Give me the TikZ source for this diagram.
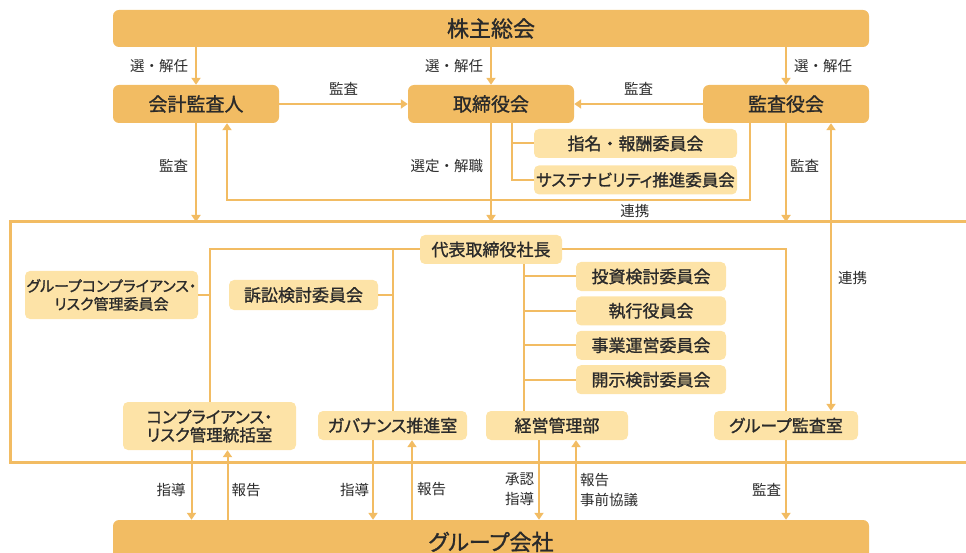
\documentclass[tikz,border=0pt]{standalone}
\usepackage{fontspec}
\setmainfont{Noto Sans CJK JP}
\newfontfamily\boxfont{Noto Sans CJK JP}[FakeBold=1.2]
\newfontfamily\kana{Noto Sans CJK JP}[RawFeature=+palt,FakeBold=1.2]
\usepackage{tikz}
\usetikzlibrary{arrows.meta,positioning}
\definecolor{boxc}{HTML}{F2BC63}
\definecolor{subc}{HTML}{FDE3A7}
\definecolor{txtc}{HTML}{2A2A2A}

\begin{document}
\begin{tikzpicture}[
    x=1pt, y=-1pt,
    main/.style={rectangle,rounded corners=6pt,fill=boxc,text=txtc,inner sep=0pt,minimum width=166pt,minimum height=38pt,font=\boxfont\fontsize{19}{22}\selectfont},
    sub/.style={rectangle,rounded corners=5pt,fill=subc,text=txtc,inner sep=0pt,minimum height=29pt,align=center,font=\boxfont\fontsize{17}{18}\selectfont},
    line/.style={draw=boxc,line width=2pt},
    arrow/.style={line,-{Triangle[width=9pt,length=7pt]}},
    dblarrow/.style={line,{Triangle[width=9pt,length=7pt]}-{Triangle[width=9pt,length=7pt]}},
    lbl/.style={text=txtc,font=\fontsize{14.5}{20}\selectfont,inner sep=2pt,align=center}
]
    \useasboundingbox (0,0) rectangle (966,553);

    % top level
    \node[main,minimum width=756pt,minimum height=37pt,font=\boxfont\fontsize{22}{26}\selectfont] (agm) at (491,28.5) {株主総会};
    \node[main] (auditor) at (196,104) {会計監査人};
    \node[main] (board) at (491,104) {取締役会};
    \node[main] (kansa) at (786,104) {監査役会};
    \node[sub,minimum width=203pt] (nomin) at (635.5,143.5) {指名・報酬委員会};
    \node[sub,minimum width=203pt,below=7pt of nomin,font=\kana\fontsize{16.5}{18}\selectfont] (sustain) {サステナビリティ推進委員会};

    % company frame
    \coordinate (fnw) at (10,222);
    \coordinate (fse) at (990,462);
    \draw[boxc,line width=3pt] (fnw) rectangle (fse);

    \node[sub,minimum width=142pt] (ceo) at (491,249.5) {代表取締役社長};
    \node[sub,minimum width=173pt,minimum height=48pt,font=\kana\fontsize{15}{18}\selectfont] (gcrm) at (111.5,295) {グループコンプライアンス・\\リスク管理委員会};
    \node[sub,minimum width=149pt,minimum height=30pt] (litig) at (303.5,295) {訴訟検討委員会};
    \node[sub,minimum width=173pt,minimum height=48pt,font=\kana\fontsize{16.5}{18}\selectfont] (crmo) at (209.5,426) {コンプライアンス・\\リスク管理統括室};
    \node[sub,minimum width=149pt,font=\kana\fontsize{17}{18}\selectfont] (gov) at (392.5,425.5) {ガバナンス推進室};
    \node[sub,minimum width=150pt] (invest) at (651,276.5) {投資検討委員会};
    \node[sub,minimum width=150pt,below=5pt of invest] (exec) {執行役員会};
    \node[sub,minimum width=150pt,below=5pt of exec] (biz) {事業運営委員会};
    \node[sub,minimum width=150pt,below=5pt of biz] (disc) {開示検討委員会};
    \node[sub,minimum width=142pt] (mgmt) at (557,425.5) {経営管理部};
    \node[sub,minimum width=144pt,font=\kana\fontsize{17}{18}\selectfont] (gaudit) at (786,425.5) {グループ監査室};

    \node[main,minimum width=756pt,minimum height=44pt,font=\kana\fontsize{22}{26}\selectfont] (group) at (491,542) {グループ会社};

    % shareholders
    \draw[arrow] (auditor.north |- agm.south) -- node[lbl,left=5pt] {選・解任} (auditor.north);
    \draw[arrow] (board.north |- agm.south) -- node[lbl,left=5pt] {選・解任} (board.north);
    \draw[arrow] (kansa.north |- agm.south) -- node[lbl,right=5pt] {選・解任} (kansa.north);
    \draw[arrow] (auditor.east) -- node[lbl,above=6pt] {監査} (board.west);
    \draw[arrow] (kansa.west) -- node[lbl,above=6pt] {監査} (board.east);

    % audits down to the company
    \draw[arrow] (auditor.south) -- node[lbl,left=5pt,pos=0.43] {監査} (auditor.south |- fnw);
    \draw[arrow] (board.south) -- node[lbl,left=5pt,pos=0.43] {選定・解職} (board.south |- fnw);
    \draw[arrow] (kansa.south) -- node[lbl,right=1pt,pos=0.43] {監査} (kansa.south |- fnw);

    % board committees
    \coordinate (bd) at ([xshift=21pt]board.south);
    \draw[line] (bd) |- (nomin.west);
    \draw[line] (bd) |- (sustain.west);

    % 連携
    \coordinate (ks) at ([xshift=-36pt]kansa.south);
    \coordinate (as) at ([xshift=31pt]auditor.south);
    \draw[arrow] (ks) -- (ks |- 0,200) -| node[lbl,below=1pt,pos=0.11] {連携} (as);
    \coordinate (kr) at ([xshift=45pt]kansa.south);
    \draw[dblarrow] (kr) -- node[lbl,right=4pt,pos=0.54] {連携} (kr |- gaudit.north);

    % inside the company
    \draw[line] (ceo.west) -| (crmo.north);
    \draw[line] (ceo.west -| gov.north) -- (gov.north);
    \draw[line] (gcrm.east) -- (gcrm.east -| crmo.north);
    \draw[line] (litig.east) -- (litig.east -| gov.north);
    \draw[line] (ceo.east) -| (gaudit.north);
    \coordinate (trunk) at ([xshift=33pt]ceo.south);
    \draw[line] (trunk) -- (trunk |- mgmt.north);
    \foreach \c in {invest,exec,biz,disc}
        \draw[line] (\c.west) -- (trunk |- \c.west);

    % to the group companies
    \coordinate (c1) at ([xshift=-18pt]crmo.south);
    \coordinate (c2) at ([xshift=18pt]crmo.south);
    \draw[arrow] (c1) -- node[lbl,left=3pt,pos=0.57] {指導} (c1 |- group.north);
    \draw[arrow] (c2 |- group.north) -- node[lbl,right=1pt,pos=0.43] {報告} (c2);
    \coordinate (g1) at ([xshift=-19.5pt]gov.south);
    \coordinate (g2) at ([xshift=19.5pt]gov.south);
    \draw[arrow] (g1) -- node[lbl,left=1pt,pos=0.62] {指導} (g1 |- group.north);
    \draw[arrow] (g2 |- group.north) -- node[lbl,right=2pt,pos=0.38] {報告} (g2);
    \coordinate (m1) at ([xshift=-18pt]mgmt.south);
    \coordinate (m2) at ([xshift=19pt]mgmt.south);
    \draw[arrow] (m1) -- node[lbl,left=2pt,pos=0.62] {承認\\指導} (m1 |- group.north);
    \draw[arrow] (m2 |- group.north) -- node[lbl,right=1pt,pos=0.38,align=left] {報告\\事前協議} (m2);
    \draw[arrow] (gaudit.south) -- node[lbl,left=2pt,pos=0.62] {監査} (gaudit.south |- group.north);
\end{tikzpicture}
\end{document}
